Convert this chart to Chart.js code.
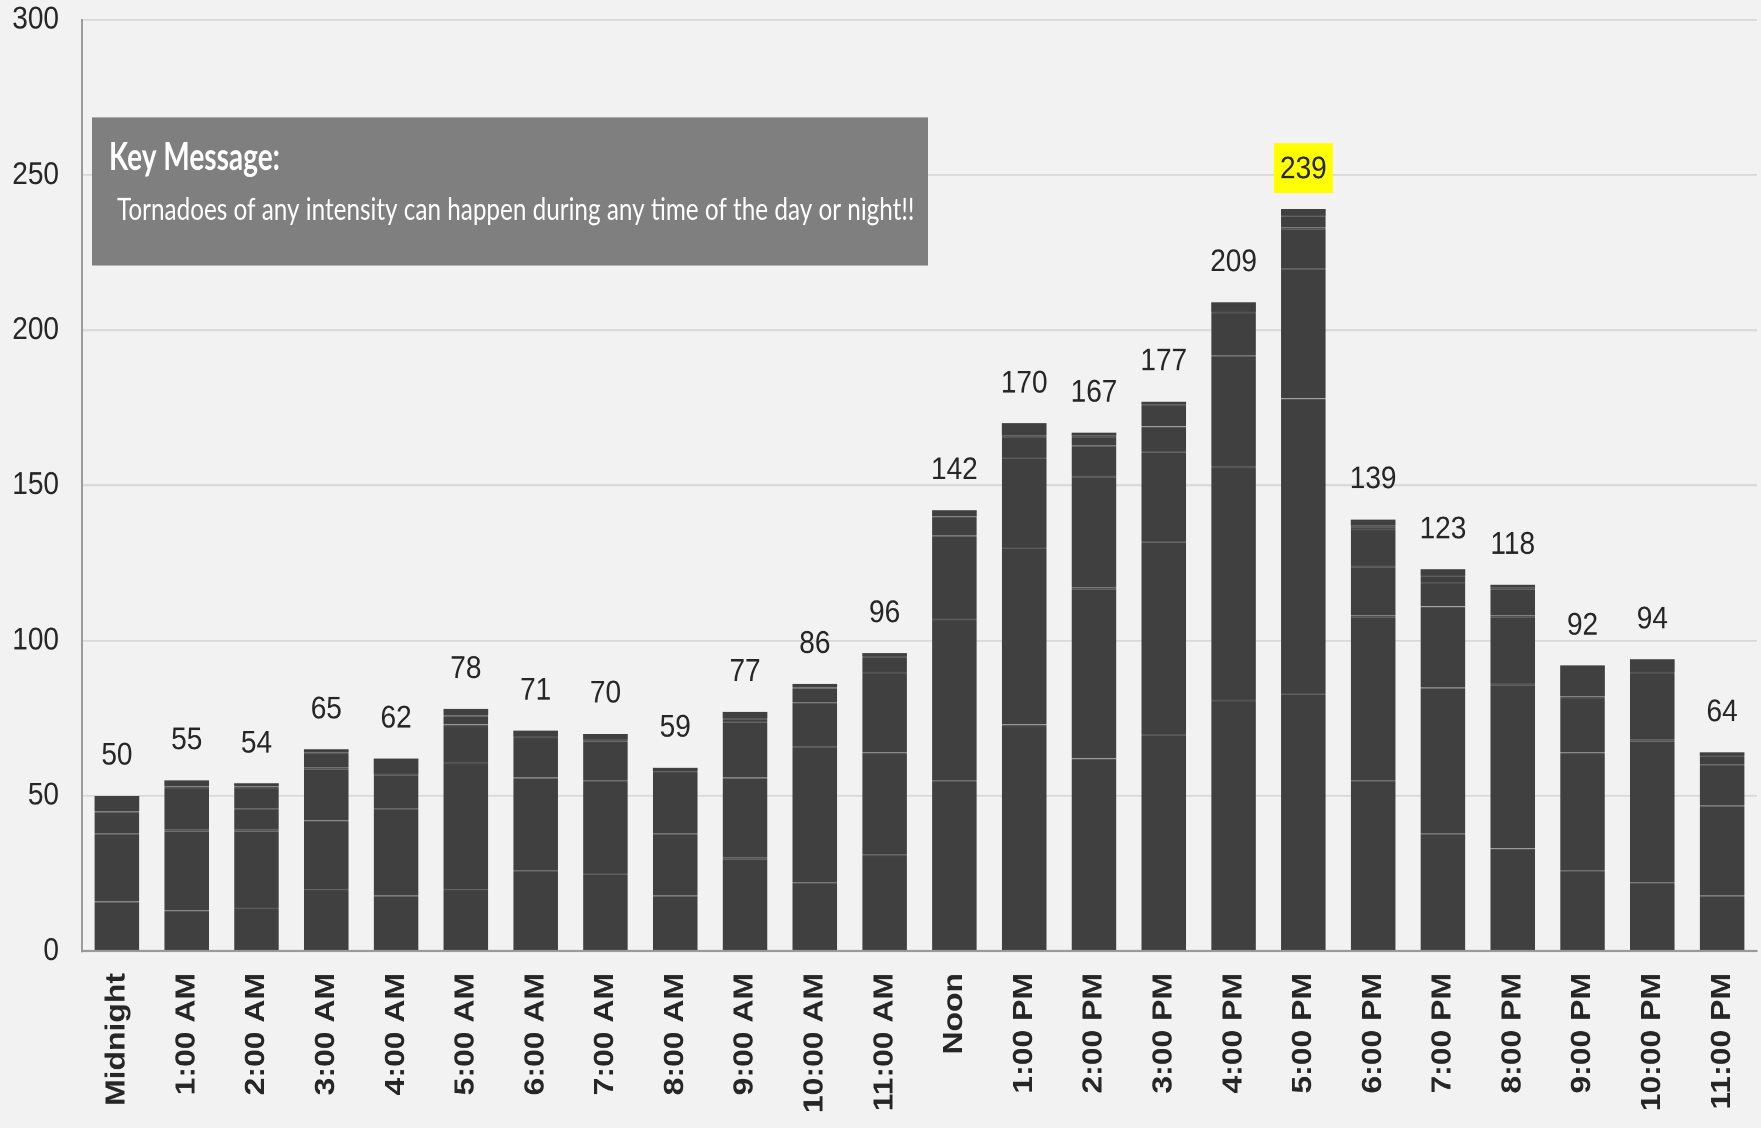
<!DOCTYPE html>
<html>
<head>
<meta charset="utf-8">
<script src="https://cdn.jsdelivr.net/npm/chart.js@4.4.1/dist/chart.umd.min.js"></script>
<style>
  html, body { margin: 0; padding: 0; background: #f2f2f2; overflow: hidden; }
  #stretch { width: 1761px; height: 1128px; overflow: hidden; }
  #wrap { width: 1761px; height: 990px; transform: scaleY(1.139394); transform-origin: 0 0; }
</style>
</head>
<body>
<div id="stretch"><div id="wrap"><canvas id="c"></canvas></div></div>
<script>
// ---- Data ----
const categories = ['Midnight', '1:00 AM', '2:00 AM', '3:00 AM', '4:00 AM', '5:00 AM',
  '6:00 AM', '7:00 AM', '8:00 AM', '9:00 AM', '10:00 AM', '11:00 AM',
  'Noon', '1:00 PM', '2:00 PM', '3:00 PM', '4:00 PM', '5:00 PM',
  '6:00 PM', '7:00 PM', '8:00 PM', '9:00 PM', '10:00 PM', '11:00 PM'];

// stacked segments (bottom to top)
const seg1 = [16, 13, 14, 20, 18, 20, 26, 25, 18, 30, 22, 31, 55, 73, 62, 70, 81, 83, 55, 38, 33, 26, 22, 18];
const seg2 = [22, 26, 25, 22, 28, 41, 30, 30, 20, 26, 44, 33, 52, 57, 55, 62, 75, 95, 53, 47, 53, 38, 46, 29];
const seg3 = [7, 14, 7, 17, 11, 12, 13, 13, 20, 18, 14, 26, 27, 29, 36, 29, 36, 42, 16, 26, 22, 18, 22, 13];
const seg4 = [5, 2, 7, 5, 5, 3, 2, 2, 1, 1, 5, 5, 6, 7, 10, 8, 14, 13, 12, 8, 9, 10, 4, 3];
const seg5 = [0, 0, 1, 1, 0, 2, 0, 0, 0, 2, 1, 1, 2, 4, 3, 7, 3, 4, 1, 2, 1, 0, 0, 1];
const seg6 = [0, 0, 0, 0, 0, 0, 0, 0, 0, 0, 0, 0, 0, 0, 1, 1, 0, 2, 2, 2, 0, 0, 0, 0];

const totals = [50, 55, 54, 65, 62, 78, 71, 70, 59, 77, 86, 96, 142, 170, 167, 177, 209, 239, 139, 123, 118, 92, 94, 64];
const highlightIndex = 17;

const keyTitle = 'Key Message:';
const keyText = 'Tornadoes of any intensity can happen during any time of the day or night!!';

// ---- Styles ----
const K = 1128 / 990;           // vertical stretch of the whole picture
const SANS = "'Liberation Sans', Arial, sans-serif";
const MSG = "Lato, 'Open Sans', sans-serif";
const BAR = '#404040';
const SEP = '#545454';
const segs = [seg1, seg2, seg3, seg4, seg5, seg6];

function hasAbove(d, i) {
  for (let k = d + 1; k < segs.length; k++) if (segs[k][i] > 0) return true;
  return false;
}

function ds(label, data, d) {
  return {
    label, data,
    backgroundColor: BAR,
    borderColor: SEP,
    borderWidth: (c) => ({ top: hasAbove(d, c.dataIndex) ? 1.3 : 0, left: 0, right: 0, bottom: 0 }),
    borderSkipped: false,
    barPercentage: 0.8,
    categoryPercentage: 0.8,
    stack: 's'
  };
}

const bgPlugin = {
  id: 'bg',
  beforeDraw(chart) {
    const ctx = chart.ctx;
    ctx.save();
    ctx.fillStyle = '#f2f2f2';
    ctx.fillRect(0, 0, chart.width, chart.height);
    ctx.restore();
  }
};

function fitText(ctx, text, x, baseline, targetW, capH, weight, family) {
  ctx.font = weight + ' 100px ' + family;
  const w = ctx.measureText(text).width;
  const size = 100 * targetW / w;
  ctx.font = weight + ' ' + size + 'px ' + family;
  let cap = ctx.measureText('H').actualBoundingBoxAscent;
  if (!cap || cap < size * 0.5) cap = size * 0.717;
  const sy = Math.max(0.9, Math.min(1.25, capH / cap));
  ctx.save();
  ctx.translate(x, baseline);
  ctx.scale(1, sy);
  ctx.textAlign = 'left';
  ctx.textBaseline = 'alphabetic';
  ctx.fillText(text, 0, 0);
  ctx.restore();
}

const annotPlugin = {
  id: 'annot',
  afterDatasetsDraw(chart) {
    const ctx = chart.ctx;
    const yS = chart.scales.y;
    const meta = chart.getDatasetMeta(0);
    ctx.save();
    // value labels
    ctx.font = '28px ' + SANS;
    ctx.textAlign = 'center';
    ctx.textBaseline = 'middle';
    totals.forEach((v, i) => {
      const x = meta.data[i].x;
      const y = yS.getPixelForValue(v) - 41 / K;
      if (i === highlightIndex) {
        ctx.fillStyle = '#ffff00';
        ctx.fillRect(x - 29.5, y - 25 / K, 59, 50 / K);
      }
      ctx.fillStyle = '#262626';
      ctx.fillText(String(v), x, y + 1);
    });
    // key message box
    ctx.fillStyle = '#7f7f7f';
    ctx.fillRect(92, 117.5 / K, 836, 148 / K);
    ctx.fillStyle = '#ffffff';
    fitText(ctx, keyTitle, 109, 170 / K, 171, 27 / K, 'bold', MSG);
    fitText(ctx, keyText, 117, 220 / K, 798, 22.5 / K, 'normal', MSG);
    ctx.restore();
  }
};

new Chart(document.getElementById('c'), {
  type: 'bar',
  data: {
    labels: categories,
    datasets: segs.map((s, d) => ds('Segment ' + (d + 1), s, d))
  },
  options: {
    responsive: true,
    maintainAspectRatio: false,
    devicePixelRatio: 2,
    animation: false,
    layout: { padding: { top: 19.8 / K, right: 4, left: 0, bottom: 0 } },
    plugins: {
      legend: { display: false },
      tooltip: { enabled: false },
      title: { display: false }
    },
    scales: {
      x: {
        stacked: true,
        grid: { display: false, drawTicks: false },
        border: { display: true, color: '#9a9a9a', width: 2 },
        ticks: {
          minRotation: 90, maxRotation: 90,
          autoSkip: false,
          padding: 22 / K,
          color: '#262626',
          font: { family: SANS, size: 28, weight: 'bold' }
        },
        afterFit(scale) {
          scale.height = (1128 - 951) / K;
          scale.paddingLeft = 0;
          scale.paddingRight = 0;
        }
      },
      y: {
        stacked: true,
        min: 0, max: 300,
        grid: { color: '#d9d9d9', lineWidth: 1.8, drawTicks: false },
        border: { display: true, color: '#9a9a9a', width: 2 },
        ticks: {
          stepSize: 50,
          padding: 23,
          color: '#262626',
          font: { family: SANS, size: 28 }
        },
        afterFit(scale) {
          scale.width = 82;
          scale.paddingTop = 0;
          scale.paddingBottom = 0;
        }
      }
    }
  },
  plugins: [bgPlugin, annotPlugin]
});
</script>
</body>
</html>
